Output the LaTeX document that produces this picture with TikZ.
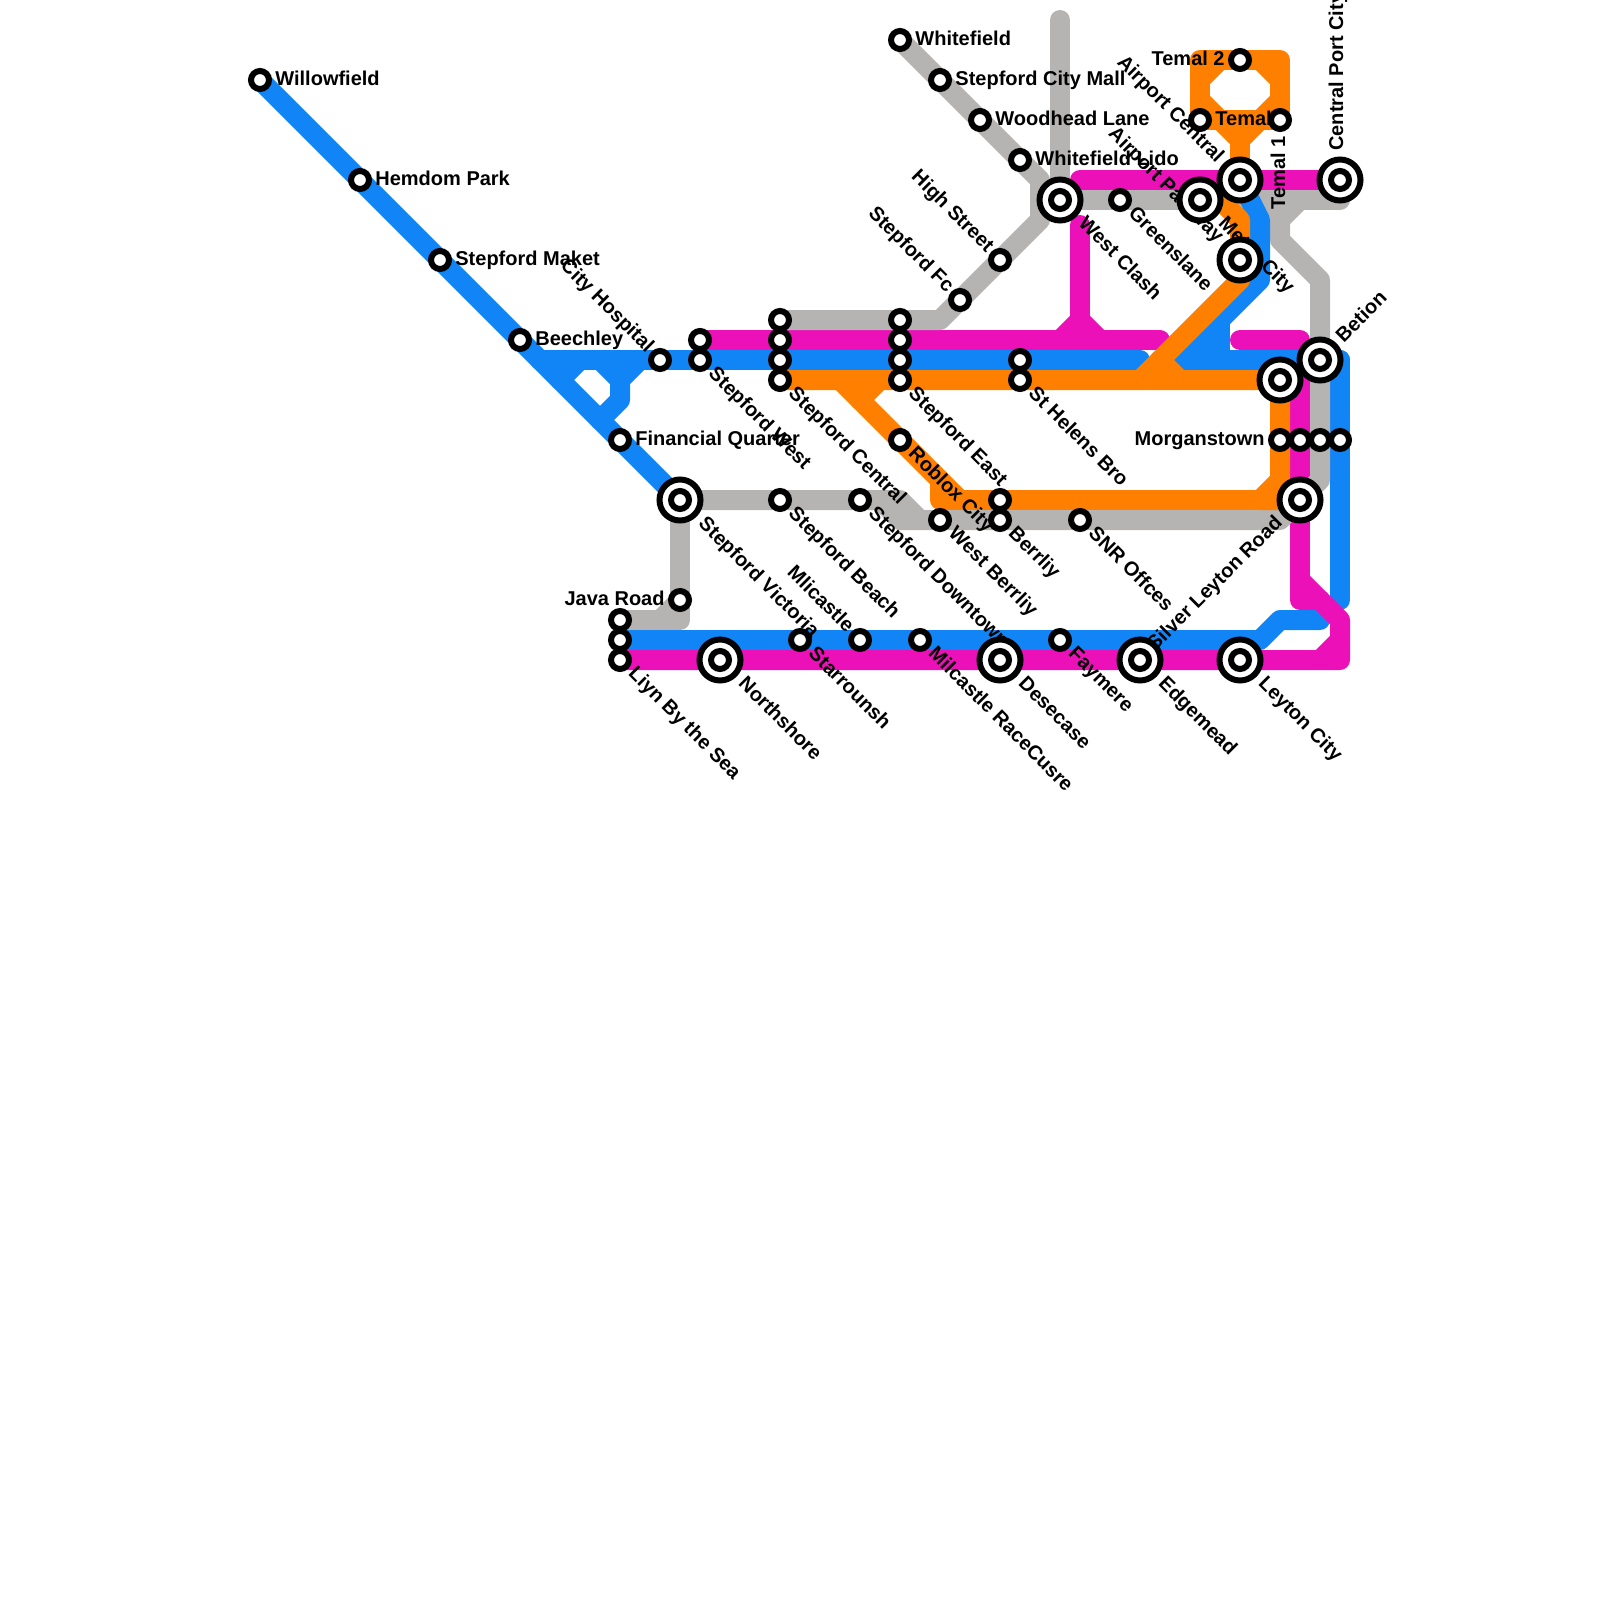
\documentclass[tikz,border=0pt]{standalone}
\usepackage{fontspec}
\setmainfont{Liberation Sans}
\pgfdeclarelayer{tracks}
\pgfdeclarelayer{labels}
\pgfsetlayers{tracks,labels,main}
\definecolor{lblue}{HTML}{1185F5}
\definecolor{lmag}{HTML}{EC10B8}
\definecolor{lorange}{HTML}{FF8000}
\definecolor{lgray}{HTML}{B5B4B2}
\tikzset{
  x=0.5pt,y=-0.5pt,
  track/.style={line width=10pt,line cap=round,line join=round},
  halt/.style={circle,draw=black,fill=white,line width=3pt,inner sep=0pt,outer sep=0pt,minimum size=9pt},
  hub/.style={circle,draw=black,fill=white,line width=3pt,inner sep=0pt,outer sep=0pt,minimum size=20.5pt,
    path picture={\draw[line width=3pt,fill=white] (path picture bounding box.center) circle (4.5pt);}},
  lab/.style={font=\bfseries\fontsize{10pt}{10pt}\selectfont,inner sep=0pt,text height=7.2pt,text depth=2.1pt,text=black},
  lE/.style={lab,anchor=west},
  lW/.style={lab,anchor=east},
  lSE/.style={lab,anchor=west,rotate=-45},
  lNW/.style={lab,anchor=east,rotate=-45},
  lNE/.style={lab,anchor=west,rotate=45},
  lSW/.style={lab,anchor=east,rotate=45},
  lUp/.style={lab,anchor=west,rotate=90},
  lDn/.style={lab,anchor=east,rotate=90},
}
\begin{document}
\begin{tikzpicture}
\useasboundingbox (0,0) rectangle (1600,1600);
% stations
\node[halt] (wil) at (260,80) {};
\node[halt] (hem) at (360,180) {};
\node[halt] (mak) at (440,260) {};
\node[halt] (bee) at (520,340) {};
\node[halt] (hos) at (660,360) {};
\node[halt] (fin) at (620,440) {};
\node[hub]  (vic) at (680,500) {};
\node[halt] (w1) at (700,340) {};
\node[halt] (w2) at (700,360) {};
\node[halt] (c0) at (780,320) {};
\node[halt] (c1) at (780,340) {};
\node[halt] (c2) at (780,360) {};
\node[halt] (c3) at (780,380) {};
\node[halt] (e0) at (900,320) {};
\node[halt] (e1) at (900,340) {};
\node[halt] (e2) at (900,360) {};
\node[halt] (e3) at (900,380) {};
\node[halt] (rob) at (900,440) {};
\node[halt] (sh1) at (1020,360) {};
\node[halt] (sh2) at (1020,380) {};
\node[halt] (bch) at (780,500) {};
\node[halt] (dwn) at (860,500) {};
\node[halt] (wbe) at (940,520) {};
\node[halt] (be1) at (1000,500) {};
\node[halt] (be2) at (1000,520) {};
\node[halt] (snr) at (1080,520) {};
\node[halt] (jav) at (680,600) {};
\node[halt] (ly0) at (620,620) {};
\node[halt] (ly1) at (620,640) {};
\node[halt] (ly2) at (620,660) {};
\node[hub]  (nor) at (720,660) {};
\node[halt] (sta) at (800,640) {};
\node[halt] (mli) at (860,640) {};
\node[halt] (mil) at (920,640) {};
\node[hub]  (des) at (1000,660) {};
\node[halt] (fay) at (1060,640) {};
\node[hub]  (edg) at (1140,660) {};
\node[hub]  (ley) at (1240,660) {};
\node[halt] (whf) at (900,40) {};
\node[halt] (scm) at (940,80) {};
\node[halt] (woo) at (980,120) {};
\node[halt] (lid) at (1020,160) {};
\node[hub]  (wcl) at (1060,200) {};
\node[halt] (gre) at (1120,200) {};
\node[halt] (hig) at (1000,260) {};
\node[halt] (sfc) at (960,300) {};
\node[hub]  (met) at (1200,200) {};
\node[hub]  (apc) at (1240,180) {};
\node[hub]  (app) at (1240,260) {};
\node[hub]  (cpc) at (1340,180) {};
\node[halt] (tm2) at (1240,60) {};
\node[halt] (tem) at (1200,120) {};
\node[halt] (tm1) at (1280,120) {};
\node[hub]  (x38) at (1280,380) {};
\node[hub]  (bet) at (1320,360) {};
\node[halt] (mo1) at (1280,440) {};
\node[halt] (mo2) at (1300,440) {};
\node[halt] (mo3) at (1320,440) {};
\node[halt] (mo4) at (1340,440) {};
\node[hub]  (sil) at (1300,500) {};
% bends
\coordinate (b1) at (540,360);
\coordinate (b2) at (560,380);
\coordinate (b3) at (580,360);
\coordinate (b4) at (600,360);
\coordinate (b5) at (620,380);
\coordinate (b6) at (620,400);
\coordinate (b7) at (600,420);
\coordinate (b8) at (640,360);
\coordinate (b9) at (1140,360);
\coordinate (b10) at (1260,220);
\coordinate (b11) at (1260,280);
\coordinate (b12) at (1180,360);
\coordinate (b13) at (1220,320);
\coordinate (b14) at (1220,360);
\coordinate (b15) at (1340,600);
\coordinate (b16) at (1260,640);
\coordinate (b17) at (1280,620);
\coordinate (b18) at (1320,620);
\coordinate (b19) at (1200,360);
\coordinate (b20) at (1220,340);
\coordinate (b21) at (1340,360);
\coordinate (m1) at (1160,340);
\coordinate (m2) at (1080,180);
\coordinate (m3) at (1080,225);
\coordinate (m4) at (1080,320);
\coordinate (m5) at (1060,340);
\coordinate (m6) at (1100,340);
\coordinate (m7) at (1240,340);
\coordinate (m8) at (1300,340);
\coordinate (m9) at (1300,600);
\coordinate (m10) at (1320,600);
\coordinate (m11) at (1300,580);
\coordinate (m12) at (1340,620);
\coordinate (m13) at (1340,660);
\coordinate (m14) at (1340,640);
\coordinate (m15) at (1320,660);
\coordinate (g1) at (1060,20);
\coordinate (g2) at (1040,180);
\coordinate (g3) at (1040,220);
\coordinate (g4) at (940,320);
\coordinate (g5) at (1340,200);
\coordinate (g6) at (1260,200);
\coordinate (g7) at (1280,220);
\coordinate (g8) at (1300,200);
\coordinate (g9) at (1280,240);
\coordinate (g10) at (1320,280);
\coordinate (g11) at (1320,480);
\coordinate (g12) at (1280,520);
\coordinate (g13) at (920,520);
\coordinate (g14) at (900,500);
\coordinate (g15) at (880,500);
\coordinate (g16) at (900,520);
\coordinate (g17) at (680,620);
\coordinate (g18) at (660,620);
\coordinate (o1) at (1200,60);
\coordinate (o2) at (1280,60);
\coordinate (o3) at (1200,80);
\coordinate (o4) at (1220,60);
\coordinate (o5) at (1260,60);
\coordinate (o6) at (1280,80);
\coordinate (o7) at (1280,100);
\coordinate (o8) at (1260,120);
\coordinate (o9) at (1220,120);
\coordinate (o10) at (1200,100);
\coordinate (o11) at (1240,140);
\coordinate (o12) at (1220,200);
\coordinate (o13) at (1240,220);
\coordinate (o14) at (1240,280);
\coordinate (o15) at (1140,380);
\coordinate (o16) at (1160,360);
\coordinate (o17) at (1180,380);
\coordinate (o18) at (840,380);
\coordinate (o19) at (960,500);
\coordinate (o20) at (940,480);
\coordinate (o21) at (940,500);
\coordinate (o22) at (880,380);
\coordinate (o23) at (860,400);
\coordinate (o24) at (1280,480);
\coordinate (o25) at (1260,500);
% tracks
\begin{pgfonlayer}{tracks}
\draw[track,lblue] (wil.center) -- (vic.center);
\draw[track,lblue] (b1) -- (b9);
\draw[track,lblue] (b2) -- (b3);
\draw[track,lblue] (b4) -- (b5) -- (b6) -- (b7);
\draw[track,lblue] (b8) -- (b5);
\draw[track,lblue] (b21) -- (b15);
\draw[track,lblue] (ly1.center) -- (b16) -- (b17) -- (b18);
\draw[track,lmag] (w1.center) -- (m1);
\draw[track,lmag] (m5) -- (m4) -- (m6);
\draw[track,lmag] (m4) -- (m3);
\draw[track,lmag] (m2) -- (cpc.center);
\draw[track,lmag] (m7) -- (m8) -- (m9) -- (m10);
\draw[track,lmag] (m11) -- (m12) -- (m13) -- (ly2.center);
\draw[track,lmag] (m14) -- (m15);
\draw[track,lgray] (g1) -- (wcl.center);
\draw[track,lgray] (whf.center) -- (g2) -- (g3) -- (g4) -- (c0.center);
\draw[track,lgray] (wcl.center) -- (g5);
\draw[track,lgray] (g6) -- (g7) -- (g9) -- (g10) -- (g11) -- (sil.center);
\draw[track,lgray] (g8) -- (g7);
\draw[track,lgray] (vic.center) -- (g14) -- (g13) -- (g12) -- (sil.center);
\draw[track,lgray] (g15) -- (g16) -- (g13);
\draw[track,lgray] (vic.center) -- (g17) -- (ly0.center);
\draw[track,lgray] (jav.center) -- (g18);
\draw[track,lblue] (apc.center) -- (b10) -- (b11) -- (b12) -- (b21);
\draw[track,lblue] (b13) -- (b14);
\draw[track,lblue] (b19) -- (b20);
\draw[track,lorange] (c3.center) -- (x38.center) -- (o24) -- (o25) -- (sil.center);
\draw[track,lorange] (o18) -- (o19);
\draw[track,lorange] (o20) -- (o21) -- (o25);
\draw[track,lorange] (o22) -- (o23);
\draw[track,lorange] (o12) -- (o13) -- (o14) -- (o15);
\draw[track,lorange] (o16) -- (o17);
\draw[track,lorange] (o1) -- (o2) -- (tm1.center) -- (tem.center) -- cycle;
\draw[track,lorange] (o3) -- (o4);
\draw[track,lorange] (o5) -- (o6);
\draw[track,lorange] (o7) -- (o8) -- (o11) -- (o9) -- (o10);
\draw[track,lorange] (o11) -- (apc.center);
\end{pgfonlayer}
% labels
\begin{pgfonlayer}{labels}
\node[lE] (t1) at ([shift={(15,0)}]wil.center) {Willowfield};
\node[lE] (t2) at ([shift={(15,0)}]hem.center) {Hemdom Park};
\node[lE] (t3) at ([shift={(15,0)}]mak.center) {Stepford Maket};
\node[lE] (t4) at ([shift={(15,0)}]bee.center) {Beechley};
\node[lNW] (t5) at ([shift={(-10,-10)}]hos.center) {City Hospital};
\node[lE] (t6) at ([shift={(15,0)}]fin.center) {Financial Quarter};
\node[lSE] (t7) at ([shift={(21,21)}]vic.center) {Stepford Victoria};
\node[lSE] (t8) at ([shift={(11,11)}]w2.center) {Stepford West};
\node[lSE] (t9) at ([shift={(11,11)}]c3.center) {Stepford Central};
\node[lSE] (t10) at ([shift={(11,11)}]e3.center) {Stepford East};
\node[lSE] (t11) at ([shift={(11,11)}]rob.center) {Roblox City};
\node[lSE] (t12) at ([shift={(11,11)}]sh2.center) {St Helens Bro};
\node[lSE] (t13) at ([shift={(11,11)}]bch.center) {Stepford Beach};
\node[lSE] (t14) at ([shift={(11,11)}]dwn.center) {Stepford Downtown};
\node[lSE] (t15) at ([shift={(11,11)}]wbe.center) {West Berrliy};
\node[lSE] (t16) at ([shift={(11,11)}]be2.center) {Berrliy};
\node[lSE] (t17) at ([shift={(11,11)}]snr.center) {SNR Offces};
\node[lW] (t18) at ([shift={(-15,0)}]jav.center) {Java Road};
\node[lSE] (t19) at ([shift={(11,11)}]ly2.center) {Liyn By the Sea};
\node[lSE] (t20) at ([shift={(21,21)}]nor.center) {Northshore};
\node[lSE] (t21) at ([shift={(11,11)}]sta.center) {Starrounsh};
\node[lNW] (t22) at ([shift={(-10,-10)}]mli.center) {Mlicastle};
\node[lSE] (t23) at ([shift={(11,11)}]mil.center) {Milcastle RaceCusre};
\node[lSE] (t24) at ([shift={(21,21)}]des.center) {Desecase};
\node[lSE] (t25) at ([shift={(11,11)}]fay.center) {Faymere};
\node[lSE] (t26) at ([shift={(21,21)}]edg.center) {Edgemead};
\node[lSE] (t27) at ([shift={(21,21)}]ley.center) {Leyton City};
\node[lSW] (t28) at ([shift={(-20,20)}]sil.center) {Silver Leyton Road};
\node[lW] (t29) at ([shift={(-15,0)}]mo1.center) {Morganstown};
\node[lNE] (t30) at ([shift={(20,-20)}]bet.center) {Betion};
\node[lUp] (t31) at ([shift={(-2,-29)}]cpc.center) {Central Port City};
\node[lDn] (t32) at ([shift={(0,16)}]tm1.center) {Temal 1};
\node[lE] (t33) at ([shift={(15,0)}]tem.center) {Temal};
\node[lW] (t34) at ([shift={(-15,0)}]tm2.center) {Temal 2};
\node[lNW] (t35) at ([shift={(-20,-20)}]apc.center) {Airport Central};
\node[lNW] (t36) at ([shift={(-20,-20)}]app.center) {Airport Parkway};
\node[lSE] (t37) at ([shift={(21,21)}]met.center) {Metro City};
\node[lSE] (t38) at ([shift={(11,11)}]gre.center) {Greenslane};
\node[lSE] (t39) at ([shift={(21,21)}]wcl.center) {West Clash};
\node[lE] (t40) at ([shift={(15,0)}]lid.center) {Whitefield Lido};
\node[lE] (t41) at ([shift={(15,0)}]woo.center) {Woodhead Lane};
\node[lE] (t42) at ([shift={(15,0)}]scm.center) {Stepford City Mall};
\node[lE] (t43) at ([shift={(15,0)}]whf.center) {Whitefield};
\node[lNW] (t44) at ([shift={(-10,-10)}]hig.center) {High Street};
\node[lNW] (t45) at ([shift={(-10,-10)}]sfc.center) {Stepford Fc};
\end{pgfonlayer}
\end{tikzpicture}
\end{document}
